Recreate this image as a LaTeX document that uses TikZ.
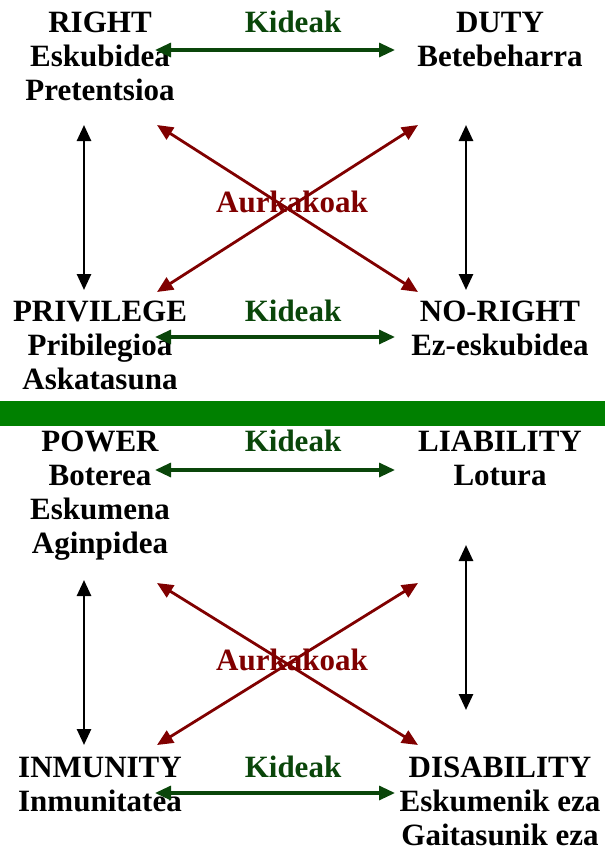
\documentclass[tikz,border=0pt]{standalone}
\usepackage{fontspec}
\setmainfont{Liberation Serif}
\usetikzlibrary{arrows.meta}
\definecolor{kgreen}{HTML}{0A460A}
\definecolor{kred}{HTML}{800000}
\definecolor{kbar}{HTML}{008000}
\tikzset{
  >={Triangle[length=16pt,width=14pt]},
  lbl/.style={anchor=north,inner sep=0pt,align=center,font=\bfseries\fontsize{31}{34}\selectfont},
  kid/.style={lbl,text=kgreen},
  opp/.style={lbl,text=kred},
  garr/.style={<->,draw=kgreen,fill=kgreen,line width=3.2pt},
  barr/.style={<->,draw=black,fill=black,line width=2.6pt},
  rarr/.style={<->,draw=kred,fill=kred,line width=2.8pt}
}
\begin{document}
\begin{tikzpicture}[x=1pt,y=-1pt]
\useasboundingbox (0,0) rectangle (605,852);
% green bar
\fill[kbar] (0,401) rectangle (605,426);

% ---- top square ----
\node[lbl] (right) at (100,12) {RIGHT\\Eskubidea\\Pretentsioa};
\node[lbl] (duty) at (500,12) {DUTY\\Betebeharra};
\node[lbl] (priv) at (100,301) {PRIVILEGE\\Pribilegioa\\Askatasuna};
\node[lbl] (noright) at (500,301) {NO-RIGHT\\Ez-eskubidea};
\node[kid] (k1) at (293,11) {Kideak};
\node[kid] (k2) at (293,300) {Kideak};
\node[opp] (a1) at (292,191) {Aurkakoak};

\coordinate (t1l) at (155,50);  \coordinate (t1r) at (395,50);
\coordinate (t2l) at (155,337); \coordinate (t2r) at (395,337);
\coordinate (tvl1) at (84,125); \coordinate (tvl2) at (84,290);
\coordinate (tvr1) at (466,125); \coordinate (tvr2) at (466,290);
\coordinate (tx1) at (157,125); \coordinate (tx2) at (418,292);
\coordinate (tx3) at (418,125); \coordinate (tx4) at (157,292);

\draw[garr] (t1l) -- (t1r);
\draw[garr] (t2l) -- (t2r);
\draw[barr] (tvl1) -- (tvl2);
\draw[barr] (tvr1) -- (tvr2);
\draw[rarr] (tx1) -- (tx2);
\draw[rarr] (tx3) -- (tx4);

% ---- bottom square ----
\node[lbl] (power) at (100,431) {POWER\\Boterea\\Eskumena\\Aginpidea};
\node[lbl] (liab) at (500,431) {LIABILITY\\Lotura};
\node[lbl] (inmu) at (100,757) {INMUNITY\\Inmunitatea};
\node[lbl] (disab) at (500,757) {DISABILITY\\Eskumenik eza\\Gaitasunik eza};
\node[kid] (k3) at (293,430) {Kideak};
\node[kid] (k4) at (293,756) {Kideak};
\node[opp] (a2) at (292,649) {Aurkakoak};

\coordinate (b1l) at (155,470); \coordinate (b1r) at (395,470);
\coordinate (b2l) at (155,793); \coordinate (b2r) at (395,793);
\coordinate (bvl1) at (84,580); \coordinate (bvl2) at (84,745);
\coordinate (bvr1) at (466,545); \coordinate (bvr2) at (466,710);
\coordinate (bx1) at (157,583); \coordinate (bx2) at (418,745);
\coordinate (bx3) at (418,583); \coordinate (bx4) at (157,745);

\draw[garr] (b1l) -- (b1r);
\draw[garr] (b2l) -- (b2r);
\draw[barr] (bvl1) -- (bvl2);
\draw[barr] (bvr1) -- (bvr2);
\draw[rarr] (bx1) -- (bx2);
\draw[rarr] (bx3) -- (bx4);
\end{tikzpicture}
\end{document}
